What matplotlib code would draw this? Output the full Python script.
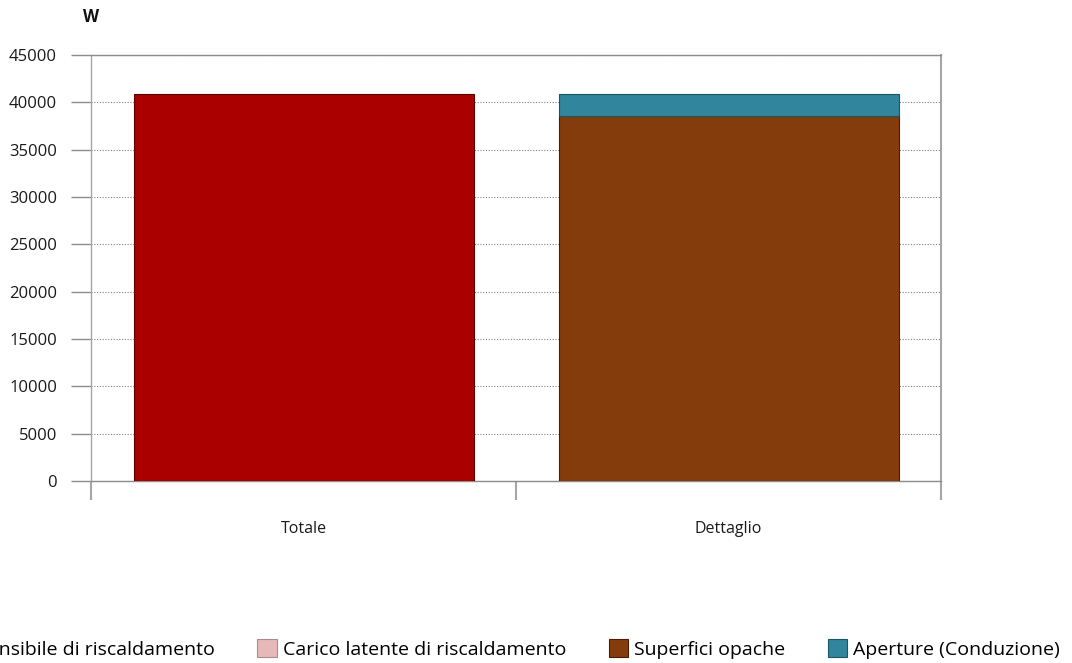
import matplotlib
matplotlib.use("Agg")
import matplotlib.pyplot as plt
from matplotlib.patches import Patch
from matplotlib.ticker import FixedLocator

plt.rcParams['font.family'] = ['Open Sans', 'DejaVu Sans']

# Data (W)
categories = ["Totale", "Dettaglio"]
series_names = ["Carico sensibile di riscaldamento", "Carico latente di riscaldamento",
                "Superfici opache", "Aperture (Conduzione)"]
sensibile = [40830, 0]
latente = [0, 0]
opache = [0, 38600]
aperture = [0, 2230]
y_ticks = [0, 5000, 10000, 15000, 20000, 25000, 30000, 35000, 40000, 45000]

colors = ["#AA0000", "#E6B9B8", "#843C0C", "#31859C"]
edges = ["#5C0000", "#B08A89", "#4A1E04", "#1C5566"]

fig = plt.figure(figsize=(10.72, 6.63), dpi=100)
ax = fig.add_axes([91 / 1072, 1 - 481 / 663, 850 / 1072, 426 / 663])

x = list(range(len(categories)))
bottom = [0] * len(categories)
for vals, c, ec in zip([sensibile, latente, opache, aperture], colors, edges):
    # empty segments get no outline
    lws = [0.8 if v > 0 else 0 for v in vals]
    ax.bar(x, vals, width=0.8, bottom=bottom, color=c, edgecolor=ec,
           linewidth=lws, zorder=3)
    bottom = [b + v for b, v in zip(bottom, vals)]

ax.set_xlim(-0.5, 1.5)
ax.set_ylim(0, 45000)
ax.set_yticks(y_ticks)
ax.set_yticklabels([str(t) for t in y_ticks])

ax.set_xticks(x)
ax.set_xticklabels(categories)
ax.xaxis.set_minor_locator(FixedLocator([-0.5, 0.5, 1.5]))

axis_grey = "#8C8C8C"
for s in ax.spines.values():
    s.set_color(axis_grey)
    s.set_linewidth(1.0)
ax.spines['left'].set_color("#A6A6A6")
ax.spines['right'].set_color("#A6A6A6")
ax.spines['right'].set_linewidth(1.5)

ax.tick_params(axis='y', direction='out', length=14.4, width=1.0, color=axis_grey,
               pad=10, labelsize=12, labelcolor="#1A1A1A")
ax.tick_params(axis='x', which='major', length=0, pad=29, labelsize=11.5,
               labelcolor="#1A1A1A")
ax.tick_params(axis='x', which='minor', direction='out', length=14, width=1.5,
               color="#A6A6A6")

ax.yaxis.grid(True, linestyle=(0, (1, 1.5)), color="#808080", linewidth=0.8, zorder=1)
ax.set_axisbelow(True)

fig.text(83 / 1072, 1 - 17 / 663, "W", fontsize=12, fontweight='bold',
         va='center', ha='left', color="#111111")

handles = [Patch(facecolor=c, edgecolor=ec, linewidth=0.8) for c, ec in zip(colors, edges)]
fig.legend(handles, series_names, ncol=4, loc='center right',
           bbox_to_anchor=(1060 / 1072, 1 - 649 / 663), frameon=False,
           fontsize=14, handlelength=1.0, handleheight=1.0, handletextpad=0.3,
           columnspacing=2.2, borderpad=0, borderaxespad=0)

fig.savefig("out.png", dpi=100)
